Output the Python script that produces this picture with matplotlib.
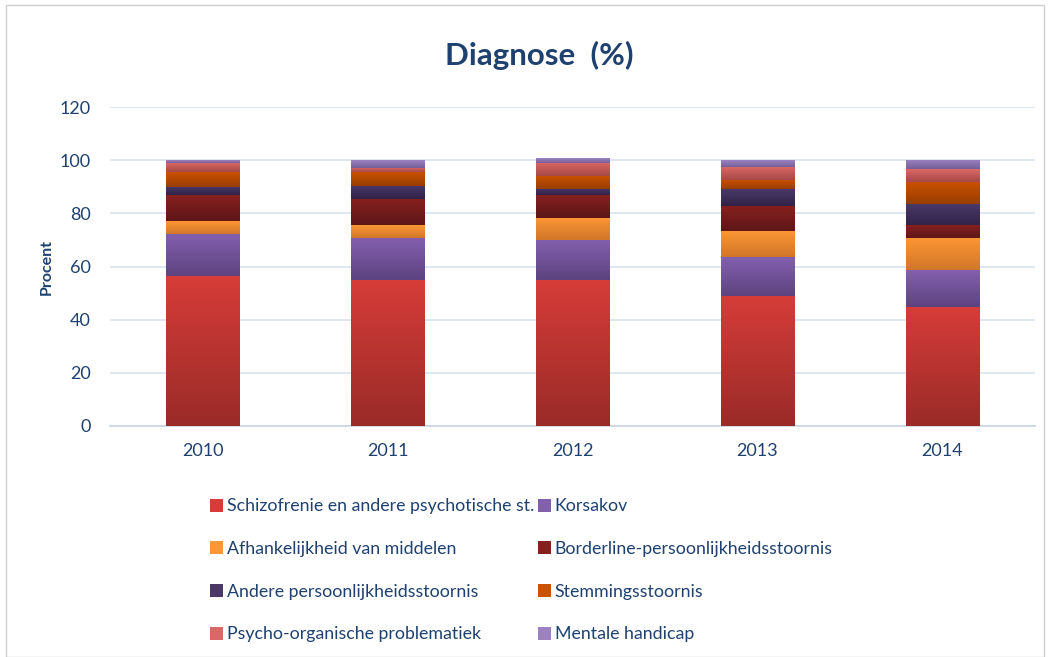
import matplotlib
matplotlib.use("Agg")
import matplotlib.pyplot as plt
import numpy as np
from matplotlib.colors import LinearSegmentedColormap
from matplotlib.patches import Rectangle, Patch

plt.rcParams['font.family'] = ['Lato', 'DejaVu Sans']

years = ['2010', '2011', '2012', '2013', '2014']
categories = [
    'Schizofrenie en andere psychotische st.',
    'Korsakov',
    'Afhankelijkheid van middelen',
    'Borderline-persoonlijkheidsstoornis',
    'Andere persoonlijkheidsstoornis',
    'Stemmingsstoornis',
    'Psycho-organische problematiek',
    'Mentale handicap',
]
schizofrenie = [56.4, 54.9, 54.9, 49.0, 44.7]
korsakov = [15.9, 15.9, 15.1, 14.5, 13.9]
afhankelijkheid = [4.8, 4.8, 8.3, 9.9, 12.2]
borderline = [9.7, 9.7, 8.5, 9.4, 4.8]
andere = [3.2, 5.0, 2.3, 6.3, 7.9]
stemming = [5.6, 5.3, 5.0, 3.5, 8.4]
psycho = [3.4, 1.6, 4.9, 4.9, 4.7]
mentale = [1.0, 2.8, 1.75, 2.5, 3.4]
series = [schizofrenie, korsakov, afhankelijkheid, borderline, andere,
          stemming, psycho, mentale]

# (top colour, bottom colour) for gradient fill
colors = [
    ('#d63c38', '#9a2b28'),
    ('#8360ae', '#5d4380'),
    ('#fc9733', '#d2762a'),
    ('#86201f', '#5e1618'),
    ('#4a3869', '#302347'),
    ('#cc5200', '#983d02'),
    ('#dc6866', '#a64947'),
    ('#9d82c2', '#755f99'),
]

text_color = '#1f4170'
grid_color = '#d9e3f1'

fig = plt.figure(figsize=(10.48, 6.57), dpi=100)
ax = fig.add_axes([0.105, 0.3516, 0.8826, 0.4855])

x = np.arange(len(years))
bottom = np.zeros(len(years))
width = 0.4
handles = []
grad = np.linspace(0, 1, 64).reshape(-1, 1)
for vals, (ctop, cbot), name in zip(series, colors, categories):
    vals = np.array(vals)
    bars = ax.bar(x, vals, width, bottom=bottom, color=ctop, linewidth=0,
                  zorder=2, label=name)
    cmap = LinearSegmentedColormap.from_list(name, [cbot, ctop])
    for b in bars:
        x0, y0 = b.get_x(), b.get_y()
        w, h = b.get_width(), b.get_height()
        im = ax.imshow(grad, cmap=cmap, extent=[x0, x0 + w, y0, y0 + h],
                       origin='lower', aspect='auto', zorder=3,
                       interpolation='bilinear')
        im.set_clip_path(b)
    handles.append(Patch(facecolor=ctop, edgecolor='none'))
    bottom = bottom + vals

ax.set_xlim(-0.5, len(years) - 0.5)
ax.set_ylim(0, 120)
ax.set_yticks(np.arange(0, 121, 20))
ax.set_xticks(x)
ax.set_xticklabels(years)
ax.yaxis.grid(True, color=grid_color, linewidth=1.2, zorder=0)
ax.set_axisbelow(True)
for s in ['top', 'right', 'left']:
    ax.spines[s].set_visible(False)
ax.spines['bottom'].set_color('#c9d3e2')
ax.spines['bottom'].set_linewidth(1.2)
ax.tick_params(axis='both', length=0, colors=text_color, labelsize=13)
ax.tick_params(axis='y', pad=14)
ax.tick_params(axis='x', pad=12)
ax.set_ylabel('Procent', color=text_color, fontsize=11.5, fontweight='bold',
              labelpad=4)

fig.text(0.515, 0.915, 'Diagnose  (%)', ha='center', va='center',
         fontsize=22.5, fontweight='bold', color=text_color)

order = [0, 2, 4, 6, 1, 3, 5, 7]
leg = fig.legend([handles[i] for i in order], [categories[i] for i in order],
                 ncol=2, loc='upper left', bbox_to_anchor=(0.185, 0.266),
                 frameon=False, fontsize=12.8, handlelength=0.75,
                 handleheight=0.75, handletextpad=0.2, columnspacing=0.2,
                 labelspacing=1.5, labelcolor=text_color)

fig.patches.append(Rectangle((0.006, 0.0), 0.99, 0.993, transform=fig.transFigure,
                             fill=False, edgecolor='#d0d0d0', linewidth=1))

fig.savefig('out.png', dpi=100)
